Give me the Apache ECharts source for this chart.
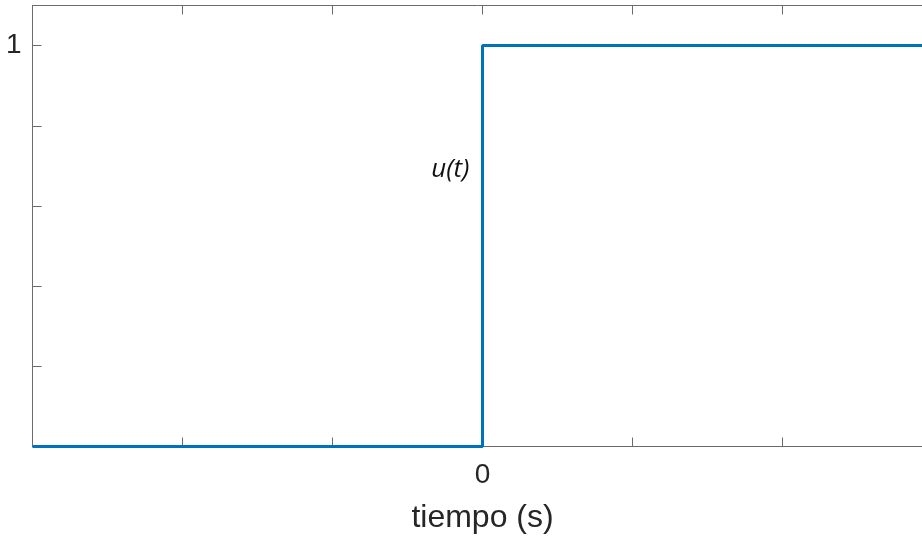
<!DOCTYPE html>
<html>
<head>
<meta charset="utf-8">
<script src="https://cdn.jsdelivr.net/npm/echarts@6/dist/echarts.min.js"></script>
<style>
  html, body { margin: 0; padding: 0; background: #fff; }
  #chart { width: 922px; height: 538px; }
</style>
</head>
<body>
<div id="chart"></div>
<script>
// Unit step u(t): time samples and values
const tiempo = [-3, 0, 0, 3];
const escalon = [0, 0, 1, 1];
const xTickLabels = { '0': '0' };
const yTickLabels = { '1': '1' };
const curveLabel = 'u(t)';
const labelAt = [0, 0.69];

const axisColor = '#6b6b6b';
const textColor = '#262626';

const chart = echarts.init(document.getElementById('chart'));

const boxAxis = {
  axisLine: { show: true, onZero: false, lineStyle: { color: axisColor, width: 1 } },
  axisTick: { show: true, inside: true, length: 9, lineStyle: { color: axisColor, width: 1 } },
  splitLine: { show: false }
};

chart.setOption({
  animation: false,
  backgroundColor: '#fff',
  grid: {
    left: 32.5, top: 5.5, width: 900, height: 441,
    containLabel: false, outerBoundsMode: 'none'
  },
  xAxis: [
    Object.assign({
      type: 'value', min: -3, max: 3, interval: 1, position: 'bottom',
      name: 'tiempo (s)', nameLocation: 'middle', nameGap: 56,
      nameTextStyle: { fontFamily: 'Liberation Sans', fontSize: 32, color: textColor },
      axisLabel: {
        margin: 15, fontFamily: 'Liberation Sans', fontSize: 28, color: textColor,
        formatter: v => xTickLabels[String(v)] || ''
      }
    }, boxAxis),
    Object.assign({
      type: 'value', min: -3, max: 3, interval: 1, position: 'top',
      axisLabel: { show: false }
    }, boxAxis)
  ],
  yAxis: [
    Object.assign({
      type: 'value', min: 0, max: 1.1, interval: 0.2, position: 'left',
      axisLabel: {
        margin: 11, fontFamily: 'Liberation Sans', fontSize: 28, color: textColor,
        formatter: v => yTickLabels[String(Math.round(v * 10) / 10)] || ''
      }
    }, boxAxis),
    Object.assign({
      type: 'value', min: 0, max: 1.1, interval: 0.2, position: 'right',
      axisLabel: { show: false }
    }, boxAxis)
  ],
  series: [{
    type: 'line',
    data: tiempo.map((t, i) => [t, escalon[i]]),
    showSymbol: false,
    symbol: 'none',
    lineStyle: { color: '#0072BD', width: 3 },
    z: 5,
    markPoint: {
      symbol: 'circle', symbolSize: 0,
      data: [{ coord: labelAt, value: curveLabel }],
      label: {
        show: true, position: 'left', distance: 13,
        formatter: curveLabel,
        fontFamily: 'Open Sans', fontStyle: 'italic', fontSize: 26, color: '#111'
      }
    }
  }]
});
</script>
</body>
</html>
